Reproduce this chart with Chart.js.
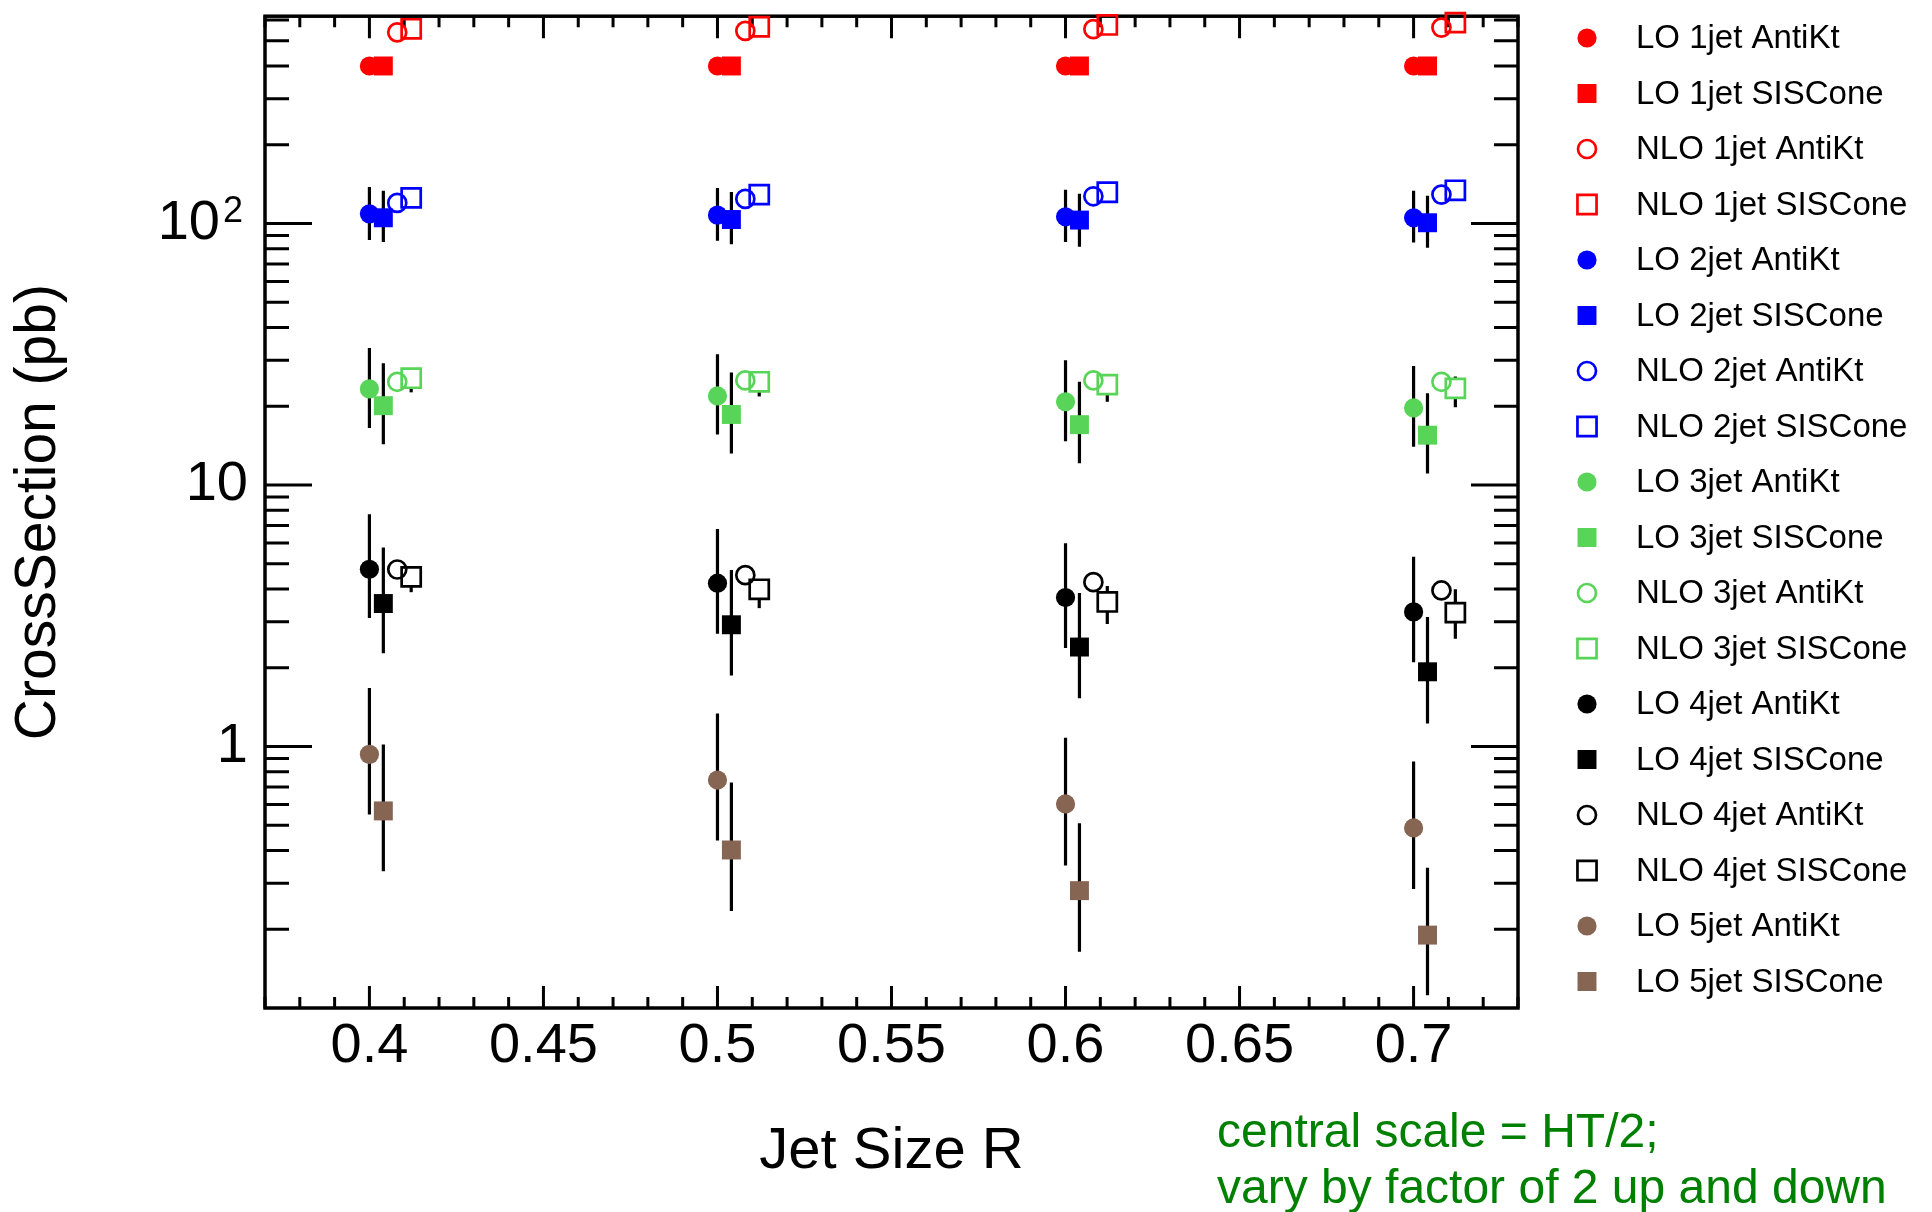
<!DOCTYPE html>
<html>
<head>
<meta charset="utf-8">
<title>CrossSection vs Jet Size R</title>
<script src="https://cdn.jsdelivr.net/npm/chart.js@4.4.0/dist/chart.umd.min.js"></script>
<style>
  html, body { margin: 0; padding: 0; background: #fff; }
  #wrap { width: 1932px; height: 1212px; }
</style>
</head>
<body>
<div id="wrap"><canvas id="xsec" width="1932" height="1212"></canvas></div>
<script>
// jet sizes and axis labels
const jetR = [0.4, 0.5, 0.6, 0.7];
const xTickLabels = [0.4, 0.45, 0.5, 0.55, 0.6, 0.65, 0.7];
const yTickLabels = [1, 10, 100];

// cross sections (pb), one value per jet size
const lo1AntiKt = [400, 400, 400, 400];
const lo1SISCone = [400, 400, 400, 400];
const nlo1AntiKt = [538, 545, 553, 561];
const nlo1SISCone = [555, 565, 574, 586];

const lo2AntiKt = [108.8, 107.6, 106.0, 105.1];
const lo2AntiKtHi = [137.7, 136.6, 134.6, 133.4];
const lo2AntiKtLo = [86.5, 85.8, 85.0, 84.5];
const lo2SISCone = [105.1, 103.5, 103.0, 100.6];
const lo2SISConeHi = [133.4, 131.9, 130.0, 127.7];
const lo2SISConeLo = [85.0, 83.2, 81.5, 80.8];
const nlo2AntiKt = [119.8, 124.1, 127.0, 128.9];
const nlo2SISCone = [125.2, 128.9, 131.6, 133.9];

const lo3AntiKt = [23.3, 21.9, 20.8, 19.7];
const lo3AntiKtHi = [33.4, 31.6, 30.0, 28.5];
const lo3AntiKtLo = [16.5, 15.6, 14.7, 14.0];
const lo3SISCone = [20.1, 18.6, 17.0, 15.5];
const lo3SISConeHi = [29.2, 26.9, 24.8, 22.4];
const lo3SISConeLo = [14.3, 13.2, 12.1, 11.05];
const nlo3AntiKt = [24.8, 25.1, 25.1, 24.8];
const nlo3SISCone = [25.6, 24.8, 24.2, 23.4];
const nlo3SISConeHi = [27.0, 26.5, 25.8, 26.0];
const nlo3SISConeLo = [22.6, 21.8, 20.8, 19.8];

const lo4AntiKt = [4.76, 4.21, 3.71, 3.27];
const lo4AntiKtHi = [7.73, 6.78, 5.98, 5.31];
const lo4AntiKtLo = [3.10, 2.70, 2.38, 2.10];
const lo4SISCone = [3.52, 2.92, 2.40, 1.93];
const lo4SISConeHi = [5.77, 4.73, 3.86, 3.13];
const lo4SISConeLo = [2.27, 1.87, 1.53, 1.225];
const nlo4AntiKt = [4.75, 4.52, 4.25, 3.95];
const nlo4SISCone = [4.45, 3.99, 3.57, 3.25];
const nlo4SISConeHi = [4.85, 4.35, 4.11, 3.99];
const nlo4SISConeLo = [3.89, 3.38, 2.94, 2.58];

const lo5AntiKt = [0.933, 0.744, 0.603, 0.488];
const lo5AntiKtHi = [1.674, 1.337, 1.08, 0.877];
const lo5AntiKtLo = [0.549, 0.437, 0.351, 0.285];
const lo5SISCone = [0.567, 0.402, 0.281, 0.190];
const lo5SISConeHi = [1.018, 0.728, 0.509, 0.344];
const lo5SISConeLo = [0.333, 0.235, 0.164, 0.112];

const RED = '#ff0000', BLUE = '#0000ff', GREEN = '#58d558', BLACK = '#000000', BROWN = '#876553';
const FONT = "'Liberation Sans', Arial, sans-serif";
const TICK_FONT = 56;

// the four kinds of points sit slightly apart around each R
const kinds = {
  loAk:   { shift: 0,     style: 'circle', filled: true },
  loSis:  { shift: 0.004, style: 'rect',   filled: true },
  nloAk:  { shift: 0.008, style: 'circle', filled: false },
  nloSis: { shift: 0.012, style: 'rect',   filled: false }
};

function series(label, kind, color, vals, lo, hi) {
  const k = kinds[kind];
  return {
    label: label,
    data: jetR.map((r, i) => ({ x: r + k.shift, y: vals[i] })),
    errLo: lo || null,
    errHi: hi || null,
    hollow: !k.filled,
    pointStyle: k.style,
    pointRadius: k.style === 'rect' ? (k.filled ? 13.4 : 13.5) : (k.filled ? 9.6 : 9),
    pointHoverRadius: k.style === 'rect' ? 13.4 : 9.6,
    pointBackgroundColor: k.filled ? color : 'rgba(0,0,0,0)',
    pointBorderColor: color,
    pointBorderWidth: k.filled ? 0 : 2.7,
    showLine: false,
    clip: false
  };
}

const datasets = [
  series('LO 1jet AntiKt', 'loAk', RED, lo1AntiKt),
  series('LO 1jet SISCone', 'loSis', RED, lo1SISCone),
  series('NLO 1jet AntiKt', 'nloAk', RED, nlo1AntiKt),
  series('NLO 1jet SISCone', 'nloSis', RED, nlo1SISCone),
  series('LO 2jet AntiKt', 'loAk', BLUE, lo2AntiKt, lo2AntiKtLo, lo2AntiKtHi),
  series('LO 2jet SISCone', 'loSis', BLUE, lo2SISCone, lo2SISConeLo, lo2SISConeHi),
  series('NLO 2jet AntiKt', 'nloAk', BLUE, nlo2AntiKt),
  series('NLO 2jet SISCone', 'nloSis', BLUE, nlo2SISCone),
  series('LO 3jet AntiKt', 'loAk', GREEN, lo3AntiKt, lo3AntiKtLo, lo3AntiKtHi),
  series('LO 3jet SISCone', 'loSis', GREEN, lo3SISCone, lo3SISConeLo, lo3SISConeHi),
  series('NLO 3jet AntiKt', 'nloAk', GREEN, nlo3AntiKt),
  series('NLO 3jet SISCone', 'nloSis', GREEN, nlo3SISCone, nlo3SISConeLo, nlo3SISConeHi),
  series('LO 4jet AntiKt', 'loAk', BLACK, lo4AntiKt, lo4AntiKtLo, lo4AntiKtHi),
  series('LO 4jet SISCone', 'loSis', BLACK, lo4SISCone, lo4SISConeLo, lo4SISConeHi),
  series('NLO 4jet AntiKt', 'nloAk', BLACK, nlo4AntiKt),
  series('NLO 4jet SISCone', 'nloSis', BLACK, nlo4SISCone, nlo4SISConeLo, nlo4SISConeHi),
  series('LO 5jet AntiKt', 'loAk', BROWN, lo5AntiKt, lo5AntiKtLo, lo5AntiKtHi),
  series('LO 5jet SISCone', 'loSis', BROWN, lo5SISCone, lo5SISConeLo, lo5SISConeHi)
];

// frame with inward ticks, ROOT style
const frame = {
  id: 'frame',
  beforeDatasetsDraw(chart) {
    const { ctx, chartArea: a, scales: { x, y } } = chart;
    ctx.save();
    ctx.strokeStyle = '#000';
    ctx.lineWidth = 3;
    ctx.beginPath();
    for (let k = 37; k <= 73; k++) {
      const px = x.getPixelForValue(k / 100);
      const len = k % 5 === 0 ? 22 : 11;
      ctx.moveTo(px, a.bottom); ctx.lineTo(px, a.bottom - len);
      ctx.moveTo(px, a.top); ctx.lineTo(px, a.top + len);
    }
    [0.1, 1, 10, 100].forEach(dec => {
      for (let m = 1; m <= 9; m++) {
        const v = m * dec;
        if (v <= y.min || v >= y.max) continue;
        const py = y.getPixelForValue(v);
        const len = m === 1 ? 47 : 24;
        ctx.moveTo(a.left, py); ctx.lineTo(a.left + len, py);
        ctx.moveTo(a.right, py); ctx.lineTo(a.right - len, py);
      }
    });
    ctx.stroke();
    ctx.lineWidth = 3.5;
    ctx.strokeRect(a.left, a.top, a.right - a.left, a.bottom - a.top);

    // exponent of the 10^2 label
    const py = y.getPixelForValue(100);
    ctx.fillStyle = '#000';
    ctx.font = '36px ' + FONT;
    ctx.textAlign = 'left';
    ctx.textBaseline = 'alphabetic';
    ctx.fillText('2', 223, py - 1);
    ctx.restore();
  }
};

// vertical scale-variation bars, stopped at the edge of hollow markers
const errorBars = {
  id: 'errorBars',
  beforeDatasetsDraw(chart) {
    const { ctx, scales: { x, y } } = chart;
    ctx.save();
    ctx.strokeStyle = '#000';
    ctx.lineWidth = 3.2;
    chart.data.datasets.forEach(ds => {
      if (!ds.errLo) return;
      const gap = ds.hollow ? 10 : 0;
      ds.data.forEach((p, i) => {
        const px = x.getPixelForValue(p.x);
        const py = y.getPixelForValue(p.y);
        const top = y.getPixelForValue(ds.errHi[i]);
        const bot = y.getPixelForValue(ds.errLo[i]);
        ctx.beginPath();
        if (top < py - gap) { ctx.moveTo(px, top); ctx.lineTo(px, py - gap); }
        if (bot > py + gap) { ctx.moveTo(px, py + gap); ctx.lineTo(px, bot); }
        ctx.stroke();
      });
    });
    ctx.restore();
  }
};

// legend column on the right plus the green note
const sideLegend = {
  id: 'sideLegend',
  afterDraw(chart) {
    const { ctx } = chart;
    ctx.save();
    chart.data.datasets.forEach((ds, i) => {
      const cy = 38 + i * 55.5;
      ctx.fillStyle = ds.pointBackgroundColor;
      ctx.strokeStyle = ds.pointBorderColor;
      ctx.lineWidth = ds.pointBorderWidth;
      Chart.helpers.drawPoint(ctx, {
        pointStyle: ds.pointStyle,
        radius: ds.pointRadius,
        borderWidth: ds.pointBorderWidth,
        rotation: 0
      }, 1587, cy);
      ctx.fillStyle = '#000';
      ctx.font = '33px ' + FONT;
      ctx.textAlign = 'left';
      ctx.textBaseline = 'middle';
      ctx.fillText(ds.label, 1636, cy + 1);
    });
    ctx.fillStyle = '#008000';
    ctx.font = '48px ' + FONT;
    ctx.textBaseline = 'alphabetic';
    ctx.fillText('central scale = HT/2;', 1217, 1147);
    ctx.fillText('vary by factor of 2 up and down', 1217, 1203);
    ctx.restore();
  }
};

new Chart(document.getElementById('xsec'), {
  type: 'scatter',
  data: { datasets: datasets },
  options: {
    responsive: false,
    devicePixelRatio: 1,
    animation: false,
    layout: { padding: { top: 12, right: 414, left: 0, bottom: 0 } },
    plugins: { legend: { display: false }, tooltip: { enabled: false } },
    scales: {
      x: {
        type: 'linear',
        position: 'bottom',
        min: 0.37,
        max: 0.73,
        grid: { display: false, drawTicks: false },
        border: { display: false },
        afterBuildTicks: scale => { scale.ticks = xTickLabels.map(v => ({ value: v })); },
        afterFit: scale => {
          scale.height = 204;
          scale.paddingLeft = 0;
          scale.paddingRight = 0;
        },
        ticks: {
          padding: 5,
          color: '#000',
          maxRotation: 0,
          font: { family: FONT, size: TICK_FONT },
          callback: v => String(+v.toFixed(2))
        },
        title: {
          display: true,
          text: 'Jet Size R',
          color: '#000',
          font: { family: FONT, size: 58 },
          padding: { top: 0, bottom: 25 }
        }
      },
      y: {
        type: 'logarithmic',
        min: 0.1,
        max: 620,
        grid: { display: false, drawTicks: false },
        border: { display: false },
        afterBuildTicks: scale => { scale.ticks = yTickLabels.map(v => ({ value: v })); },
        afterFit: scale => {
          scale.width = 265;
          scale.paddingTop = 0;
          scale.paddingBottom = 0;
        },
        ticks: {
          padding: 17,
          color: '#000',
          font: { family: FONT, size: TICK_FONT },
          // room is left after "10" for the exponent drawn by the frame plugin
          callback: v => (v === 100 ? '10\u2002' : String(v))
        },
        title: {
          display: true,
          text: 'CrossSection (pb)',
          color: '#000',
          font: { family: FONT, size: 57 },
          padding: { top: 5, bottom: 0 }
        }
      }
    }
  },
  plugins: [frame, errorBars, sideLegend]
});
</script>
</body>
</html>
